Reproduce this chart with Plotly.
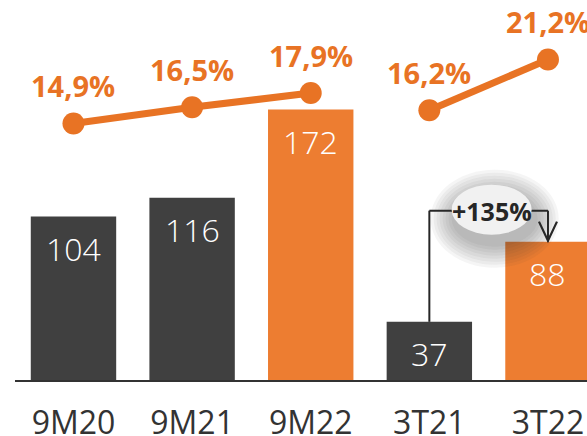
import plotly.graph_objects as go

# ---- data ----
categories = ["9M20", "9M21", "9M22", "3T21", "3T22"]
bar_values = [104, 116, 172, 37, 88]
bar_colors = ["#404040", "#404040", "#ED7D31", "#404040", "#ED7D31"]
margin_group1 = [14.9, 16.5, 17.9]          # 9M20..9M22
margin_group2 = [16.2, 21.2]                # 3T21..3T22
growth_label = "+135%"

ORANGE_LINE = "#E87324"
DARK = "#262626"
FONT = "Open Sans"

fig = go.Figure()

fig.add_trace(go.Bar(
    x=categories, y=bar_values, marker=dict(color=bar_colors, line=dict(width=0)),
    width=0.72, hoverinfo="skip", showlegend=False,
))

for xs, ys in ((categories[:3], margin_group1), (categories[3:], margin_group2)):
    fig.add_trace(go.Scatter(
        x=xs, y=ys, yaxis="y2", mode="lines+markers",
        line=dict(color=ORANGE_LINE, width=7),
        marker=dict(color=ORANGE_LINE, size=22),
        hoverinfo="skip", showlegend=False, cliponaxis=False,
    ))

annotations = []
# value labels inside bars
for c, v in zip(categories, bar_values):
    annotations.append(dict(
        x=c, y=v, xref="x", yref="y", text=str(v), showarrow=False,
        yanchor="middle", yshift=-32,
        font=dict(family=FONT, size=32, color="white", weight=300),
    ))
# margin labels above points
for c, v in zip(categories, margin_group1 + margin_group2):
    annotations.append(dict(
        x=c, y=v, xref="x", yref="y2", text=f"{v:.1f}".replace(".", ",") + "%",
        showarrow=False, yanchor="middle", yshift=38,
        font=dict(family=FONT, size=29, color=ORANGE_LINE, weight=700),
    ))

# growth bracket
i_a, i_b = 3, 4
v_a, v_b = bar_values[i_a], bar_values[i_b]
BRACKET = 107.7
shapes = [
    dict(type="line", xref="x", yref="y", x0=i_a, x1=i_a, y0=v_a, y1=BRACKET,
         line=dict(color=DARK, width=2), layer="above"),
    dict(type="line", xref="x", yref="y", x0=i_a, x1=i_b, y0=BRACKET, y1=BRACKET,
         line=dict(color=DARK, width=2), layer="above"),
    dict(type="line", xref="x", yref="y", x0=i_b, x1=i_b, y0=BRACKET, y1=v_b,
         line=dict(color=DARK, width=2), layer="above"),
    dict(type="path", xref="x", yref="y", xsizemode="pixel", ysizemode="pixel",
         xanchor=i_b, yanchor=v_b, path="M -9 20 L 0 1 L 9 20",
         line=dict(color=DARK, width=2.2), layer="above"),
]
mid = (i_a + i_b) / 2
for k in range(8):
    grow = 24 - k * 3
    shapes.append(dict(
        type="circle", xref="x", yref="y", xsizemode="pixel", ysizemode="pixel",
        xanchor=mid, yanchor=BRACKET,
        x0=-40 - grow + 6, x1=40 + grow + 6, y0=-25 - grow - 8, y1=25 + grow - 8,
        fillcolor="rgba(60,60,60,0.05)", line=dict(width=0), layer="above",
    ))
shapes.append(dict(
    type="circle", xref="x", yref="y", xsizemode="pixel", ysizemode="pixel",
    xanchor=mid, yanchor=BRACKET, x0=-37, x1=43, y0=-24, y1=26,
    fillcolor="#F1F1F1", line=dict(width=0), layer="above",
))
annotations.append(dict(
    x=mid, y=BRACKET, xref="x", yref="y", text=f"<b>{growth_label}</b>",
    showarrow=False, xshift=3, yanchor="middle",
    font=dict(family=FONT, size=25, color=DARK),
))

fig.update_layout(
    width=587, height=436,
    margin=dict(l=15, r=0, t=0, b=56, pad=0),
    paper_bgcolor="white", plot_bgcolor="white",
    bargap=0.28,
    xaxis=dict(
        type="category", range=[-0.493, 4.329], showgrid=False, zeroline=False,
        showline=True, linecolor="#333333", linewidth=1.5, ticks="",
        tickfont=dict(family=FONT, size=32, color="#333333"),
        ticklabelstandoff=14, automargin=False,
    ),
    yaxis=dict(range=[0, 241.7], visible=False, showgrid=False, zeroline=False,
               automargin=False),
    yaxis2=dict(range=[-10.34, 27.06], overlaying="y", visible=False,
                showgrid=False, zeroline=False, automargin=False),
    shapes=shapes, annotations=annotations,
)

fig.write_html(
    "out.html",
    config={"displayModeBar": False},
    post_script="document.body.style.margin='0';document.body.style.overflow='hidden';",
)
